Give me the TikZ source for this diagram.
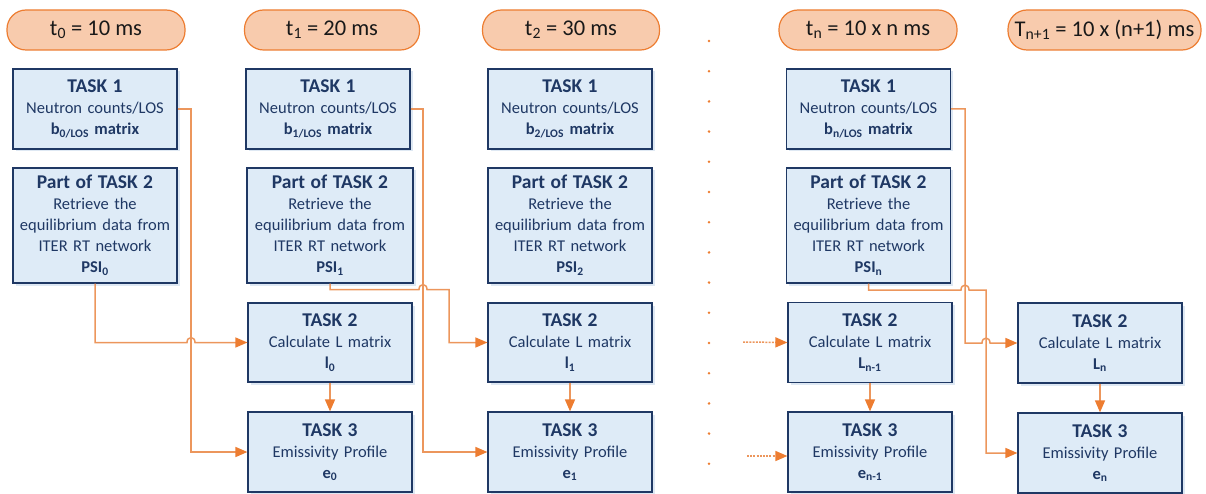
\documentclass[tikz,border=0pt]{standalone}
\usepackage{fontspec}
\setmainfont{Carlito}
\usetikzlibrary{arrows.meta,shadows}
\definecolor{boxfill}{RGB}{222,235,247}
\definecolor{boxline}{RGB}{31,56,100}
\definecolor{txt}{RGB}{31,56,100}
\definecolor{headfill}{RGB}{248,203,173}
\definecolor{headline}{RGB}{237,125,49}
\definecolor{connc}{RGB}{236,150,92}
\definecolor{tipc}{RGB}{237,125,49}
\definecolor{shadowc}{RGB}{214,226,240}
\newcommand\ttl[1]{{\fontsize{19.5}{21}\selectfont\bfseries #1}}
\begin{document}
\begin{tikzpicture}[x=1pt,y=-1pt,
  every node/.style={inner sep=0pt, align=center},
  taskbox/.style={draw=boxline, line width=1.2pt, fill=boxfill, text=txt,
    minimum width=164pt, text width=160pt,
    font=\fontsize{16.5}{21}\selectfont,
    drop shadow={shadow xshift=2.5pt, shadow yshift=-2.5pt, fill=shadowc, opacity=0.8}},
  head/.style={draw=headline, line width=1.2pt, fill=headfill, rounded corners=19pt,
    minimum height=40pt, text=black!90, font=\fontsize{22.5}{26}\selectfont},
  cn/.style={draw=connc, line width=1.5pt},
  cna/.style={cn, -{Triangle[length=12pt,width=10pt,color=tipc]}},
  dotarr/.style={cna, dash pattern=on 2pt off 1.2pt}
]
\useasboundingbox (0,0) rectangle (1206,494);

% headers
\node[head, minimum width=178pt] (h0) at (96,30) {t\textsubscript{0} = 10 ms};
\node[head, minimum width=175pt] (h1) at (332,30) {t\textsubscript{1} = 20 ms};
\node[head, minimum width=177pt] (h2) at (571,30) {t\textsubscript{2} = 30 ms};
\node[head, minimum width=178pt] (hn) at (868,30) {t\textsubscript{n} = 10 x n ms};
\node[head, minimum width=193pt] (hN) at (1104.5,30) {T\textsubscript{n+1} = 10 x (n+1) ms};

% column 0
\node[taskbox, minimum height=80pt] (a0) at (95,109)
  {\ttl{TASK 1}\\Neutron counts/LOS\\\textbf{b\textsubscript{0/LOS} matrix}};
\node[taskbox, minimum height=115pt] (p0) at (95,225.5)
  {\ttl{Part of TASK 2}\\Retrieve the\\equilibrium data from\\ITER RT network\\\textbf{PSI\textsubscript{0}}};

% column 1
\node[taskbox, minimum height=80pt] (a1) at (328,109)
  {\ttl{TASK 1}\\Neutron counts/LOS\\\textbf{b\textsubscript{1/LOS} matrix}};
\node[taskbox, minimum height=115pt, minimum width=166pt] (p1) at (330,225.5)
  {\ttl{Part of TASK 2}\\Retrieve the\\equilibrium data from\\ITER RT network\\\textbf{PSI\textsubscript{1}}};
\node[taskbox, minimum height=79pt] (c1) at (330,342.5)
  {\ttl{TASK 2}\\Calculate L matrix\\\textbf{l\textsubscript{0}}};
\node[taskbox, minimum height=80pt] (e1) at (330,452)
  {\ttl{TASK 3}\\Emissivity Profile\\\textbf{e\textsubscript{0}}};

% column 2
\node[taskbox, minimum height=80pt] (a2) at (570,109)
  {\ttl{TASK 1}\\Neutron counts/LOS\\\textbf{b\textsubscript{2/LOS} matrix}};
\node[taskbox, minimum height=115pt] (p2) at (570,225.5)
  {\ttl{Part of TASK 2}\\Retrieve the\\equilibrium data from\\ITER RT network\\\textbf{PSI\textsubscript{2}}};
\node[taskbox, minimum height=79pt] (c2) at (570,342.5)
  {\ttl{TASK 2}\\Calculate L matrix\\\textbf{l\textsubscript{1}}};
\node[taskbox, minimum height=80pt] (e2) at (570,452)
  {\ttl{TASK 3}\\Emissivity Profile\\\textbf{e\textsubscript{1}}};

% column n
\node[taskbox, minimum height=80pt] (an) at (868.5,109)
  {\ttl{TASK 1}\\Neutron counts/LOS\\\textbf{b\textsubscript{n/LOS} matrix}};
\node[taskbox, minimum height=115pt] (pn) at (868.5,225.5)
  {\ttl{Part of TASK 2}\\Retrieve the\\equilibrium data from\\ITER RT network\\\textbf{PSI\textsubscript{n}}};
\node[taskbox, minimum height=80pt] (cm) at (870,342.5)
  {\ttl{TASK 2}\\Calculate L matrix\\\textbf{L\textsubscript{n-1}}};
\node[taskbox, minimum height=80pt] (em) at (870,452)
  {\ttl{TASK 3}\\Emissivity Profile\\\textbf{e\textsubscript{n-1}}};

% column n+1
\node[taskbox, minimum height=80pt] (cN) at (1100,343)
  {\ttl{TASK 2}\\Calculate L matrix\\\textbf{L\textsubscript{n}}};
\node[taskbox, minimum height=80pt] (eN) at (1100,453)
  {\ttl{TASK 3}\\Emissivity Profile\\\textbf{e\textsubscript{n}}};

% dots column
\foreach \i in {0,...,14} \fill[tipc] (709,41+30.2*\i) circle (1.4);

% connectors column 0 -> 1
\draw[cna] (a0.east) -- (191,109) |- (e1.west);
\draw[cna] (p0.south) -- (95,342.5) -- (187,342.5)
   .. controls (187,336) and (195,336) .. (195,342.5) -- (c1.west);
% column 1 -> 2
\draw[cna] (a1.east) -- (423,109) |- (e2.west);
\draw[cna] (p1.south) -- (330,289.5) -- (419,289.5)
   .. controls (419,283) and (427,283) .. (427,289.5) -- (449,289.5) |- (c2.west);
% column n -> n+1
\draw[cna] (an.east) -- (965,109) -- (965,343) -- (982,343)
   .. controls (982,336.5) and (990,336.5) .. (990,343) -- (cN.west);
\draw[cna] (pn.south) -- (868.5,290) -- (961,290)
   .. controls (961,283.5) and (969,283.5) .. (969,290) -- (986,290) |- (eN.west);

% internal arrows
\draw[cna] (c1.south) -- (e1.north);
\draw[cna] (c2.south) -- (e2.north);
\draw[cna] (cm.south) -- (em.north);
\draw[cna] (cN.south) -- (eN.north);

% dotted incoming arrows
\coordinate (dm1) at (743,342);
\coordinate (dm2) at (747,456);
\draw[dotarr] (dm1) -- (cm.west);
\draw[dotarr] (dm2) -- (em.west |- dm2);
\end{tikzpicture}
\end{document}
